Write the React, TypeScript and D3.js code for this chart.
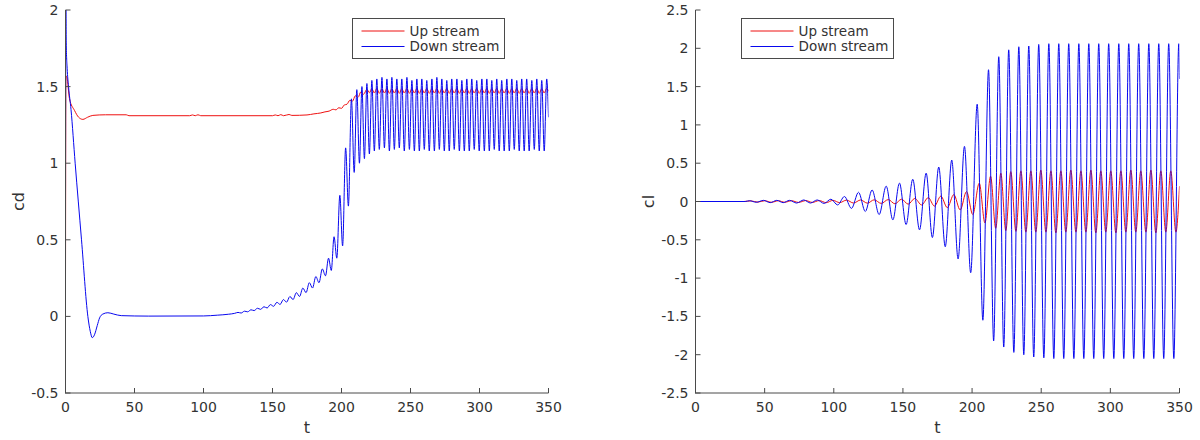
import React from "react";
import * as d3 from "d3";

// ---------- DATA ----------
const xTicks = [0, 50, 100, 150, 200, 250, 300, 350];
const cdTicks = [-0.5, 0, 0.5, 1, 1.5, 2];
const clTicks = [-2.5, -2, -1.5, -1, -0.5, 0, 0.5, 1, 1.5, 2, 2.5];
const seriesNames = ["Up stream", "Down stream"];

// flat [t, value, t, value, ...] lists of key points / extrema
const cdUp = [
  0, 0.18, 0.3, 1.57, 1, 1.56, 2.9, 1.42, 6.5, 1.345, 9.5, 1.3, 12.6, 1.286, 16, 1.3, 19.8, 1.312,
  29, 1.316, 44, 1.316, 46, 1.31, 90, 1.31, 92, 1.315, 94, 1.31, 96, 1.316, 98, 1.31, 150, 1.31,
  152, 1.315, 154, 1.31, 156, 1.317, 158, 1.31, 162, 1.318, 164, 1.312, 175, 1.315, 180, 1.322,
  185, 1.328, 188, 1.335, 191, 1.34, 194, 1.352, 196, 1.348, 198, 1.362, 200, 1.358, 202, 1.38,
  204, 1.385, 206, 1.41, 208, 1.405, 210, 1.44, 212, 1.43, 214, 1.465, 216, 1.45,
  218.4, 1.482, 220.2, 1.46, 222.0, 1.486, 223.8, 1.458, 225.6, 1.488, 227.4, 1.456, 229.3, 1.486,
  231.1, 1.458, 232.9, 1.488, 234.7, 1.456, 236.5, 1.486, 238.3, 1.458, 240.1, 1.488, 241.9, 1.456,
  243.7, 1.486, 245.5, 1.458, 247.4, 1.488, 249.2, 1.456, 251.0, 1.486, 252.8, 1.458, 254.6, 1.488,
  256.4, 1.456, 258.2, 1.486, 260.0, 1.458, 261.8, 1.488, 263.6, 1.456, 265.5, 1.486, 267.3, 1.458,
  269.1, 1.488, 270.9, 1.456, 272.7, 1.486, 274.5, 1.458, 276.3, 1.488, 278.1, 1.456, 279.9, 1.486,
  281.7, 1.458, 283.6, 1.488, 285.4, 1.456, 287.2, 1.486, 289.0, 1.458, 290.8, 1.488, 292.6, 1.456,
  294.4, 1.486, 296.2, 1.458, 298.0, 1.488, 299.8, 1.456, 301.7, 1.486, 303.5, 1.458, 305.3, 1.488,
  307.1, 1.456, 308.9, 1.486, 310.7, 1.458, 312.5, 1.488, 314.3, 1.456, 316.1, 1.486, 317.9, 1.458,
  319.8, 1.488, 321.6, 1.456, 323.4, 1.486, 325.2, 1.458, 327.0, 1.488, 328.8, 1.456, 330.6, 1.486,
  332.4, 1.458, 334.2, 1.488, 336.0, 1.456, 337.9, 1.486, 339.7, 1.458, 341.5, 1.488, 343.3, 1.456,
  345.1, 1.486, 346.9, 1.458, 348.7, 1.488, 350, 1.47,
];

const cdDown = [
  0, 0.7, 0.25, 2.0, 0.5, 1.79, 1.2, 1.62, 2.2, 1.5, 4, 1.35, 7, 1.0, 11.6, 0.5, 16.2, 0, 18, -0.1,
  19.4, -0.139, 21, -0.12, 23, -0.06, 24.7, -0.01, 27, 0.015, 30.7, 0.024, 35, 0.015, 40.4, 0.005,
  60, 0.002, 100, 0.003, 110, 0.008, 118, 0.014, 122.6, 0.02,
  125, 0.026, 127.3, 0.022, 129.7, 0.034, 132, 0.03, 134.4, 0.043, 136.7, 0.038, 139.1, 0.053,
  141.4, 0.046, 143.8, 0.063, 146.1, 0.055, 148.5, 0.077, 150.8, 0.066, 153.2, 0.092, 155.5, 0.078,
  157.9, 0.11, 160.2, 0.093, 162.6, 0.13, 164.9, 0.11, 167.3, 0.155, 169.6, 0.13, 172, 0.185,
  174.3, 0.155, 176.7, 0.22, 179, 0.185, 181.4, 0.26, 183.7, 0.22, 186.1, 0.31, 188.4, 0.265,
  190.6, 0.38, 192.6, 0.3, 194.6, 0.52, 196.6, 0.38, 198.8, 0.79, 200.8, 0.46, 203, 1.1, 205, 0.72,
  207.2, 1.42, 209.2, 0.94, 211.1, 1.48, 213, 1.0,
  214.8, 1.5, 216.6, 1.03, 218.4, 1.52, 220.2, 1.06, 222.0, 1.54, 223.8, 1.08, 225.6, 1.55,
  227.4, 1.09, 229.3, 1.56, 231.1, 1.1, 232.9, 1.55, 234.7, 1.08, 236.5, 1.56, 238.3, 1.09,
  240.1, 1.55, 241.9, 1.1, 243.7, 1.55, 245.5, 1.08, 247.4, 1.56, 249.2, 1.09, 251.0, 1.54,
  252.8, 1.08, 254.6, 1.55, 256.4, 1.08, 258.2, 1.55, 260.0, 1.09, 261.8, 1.54, 263.6, 1.08,
  265.5, 1.55, 267.3, 1.08, 269.1, 1.56, 270.9, 1.09, 272.7, 1.55, 274.5, 1.08, 276.3, 1.54,
  278.1, 1.08, 279.9, 1.55, 281.7, 1.09, 283.6, 1.55, 285.4, 1.08, 287.2, 1.54, 289.0, 1.08,
  290.8, 1.55, 292.6, 1.08, 294.4, 1.55, 296.2, 1.09, 298.0, 1.54, 299.8, 1.08, 301.7, 1.55,
  303.5, 1.08, 305.3, 1.55, 307.1, 1.08, 308.9, 1.54, 310.7, 1.09, 312.5, 1.55, 314.3, 1.08,
  316.1, 1.54, 317.9, 1.08, 319.8, 1.55, 321.6, 1.08, 323.4, 1.55, 325.2, 1.09, 327.0, 1.54,
  328.8, 1.08, 330.6, 1.55, 332.4, 1.08, 334.2, 1.55, 336.0, 1.08, 337.9, 1.54, 339.7, 1.09,
  341.5, 1.55, 343.3, 1.08, 345.1, 1.54, 346.9, 1.08, 348.7, 1.55, 350, 1.3,
];

const clUp = [
  0, 0, 35, 0, 40, 0.008, 45, -0.008, 50, 0.01, 55, -0.01, 60, 0.01, 64.5, -0.01, 69.5, 0.01,
  74.5, -0.012, 79.8, 0.012, 84.5, -0.012, 89.5, 0.012, 94.5, -0.015, 99.4, 0.015, 104.3, -0.015,
  109.2, 0.018, 114.3, -0.02, 119.4, 0.02, 124.3, -0.022, 129.2, 0.022, 134.3, -0.025, 139.4, 0.025,
  144.2, -0.03, 149, 0.03, 153.8, -0.035, 158.6, 0.04, 163.5, -0.045, 168.3, 0.05, 172.8, -0.06,
  177.4, 0.07, 182.1, -0.08, 186.8, 0.09, 191.4, -0.11, 196, 0.13, 200.5, -0.17, 205.2, 0.24,
  209.3, -0.28, 213.4, 0.33, 217.1, -0.35, 220.8, 0.37, 224.4, -0.38, 228, 0.39, 231.7, -0.39,
  235.3, 0.4, 238.9, -0.4, 242.5, 0.4, 246.1, -0.4, 249.7, 0.41, 253.4, -0.4, 257, 0.4, 260.6, -0.41,
  264.2, 0.4, 267.8, -0.4, 271.4, 0.41, 275.1, -0.4, 278.7, 0.4, 282.3, -0.4, 285.9, 0.41,
  289.5, -0.41, 293.1, 0.4, 296.7, -0.4, 300.3, 0.4, 304, -0.41, 307.6, 0.4, 311.2, -0.4,
  314.8, 0.41, 318.4, -0.4, 322, 0.4, 325.7, -0.4, 329.3, 0.41, 332.9, -0.41, 336.5, 0.4,
  340.1, -0.4, 343.7, 0.4, 347.4, -0.4, 350, 0.2,
];

const clDown = [
  0, 0, 36, 0, 39, 0.01, 44, -0.01, 49.2, 0.015, 54, -0.015, 58.8, 0.015, 63.4, -0.015, 68, 0.015,
  73.1, -0.02, 78.3, 0.02, 83.1, -0.02, 88, 0.02, 93, -0.025, 97.9, 0.03, 102.8, -0.045, 107.7, 0.065,
  112.8, -0.09, 117.9, 0.12, 122.8, -0.13, 127.7, 0.15, 132.8, -0.17, 137.9, 0.2, 142.7, -0.24,
  147.5, 0.24, 152.3, -0.3, 157.1, 0.29, 162, -0.37, 166.8, 0.37, 171.3, -0.47, 175.9, 0.45,
  180.6, -0.59, 185.3, 0.54, 189.9, -0.75, 194.5, 0.72, 199, -0.93, 203.7, 1.27, 207.8, -1.55,
  211.9, 1.72, 215.6, -1.82, 219.3, 1.89, 222.9, -1.9, 226.5, 1.98, 230.2, -1.97, 233.8, 2.02,
  237.4, -2.0, 241, 2.03, 244.6, -2.03, 248.2, 2.05, 251.9, -2.04, 255.5, 2.06, 259.1, -2.05,
  262.7, 2.06, 266.3, -2.05, 269.9, 2.06, 273.6, -2.05, 277.2, 2.06, 280.8, -2.05, 284.4, 2.06,
  288, -2.05, 291.6, 2.06, 295.2, -2.05, 298.8, 2.06, 302.5, -2.05, 306.1, 2.06, 309.7, -2.05,
  313.3, 2.06, 316.9, -2.05, 320.5, 2.06, 324.2, -2.05, 327.8, 2.06, 331.4, -2.05, 335, 2.06,
  338.6, -2.05, 342.2, 2.06, 345.9, -2.05, 349.5, 2.06, 350, 1.6,
];

// ---------- helpers ----------
const toPairs = (a: number[]) => {
  const out: [number, number][] = [];
  for (let i = 0; i < a.length; i += 2) out.push([a[i], a[i + 1]]);
  return out;
};

const FONT = "'DejaVu Sans', sans-serif";
const AXIS = "#4a4a4a";
const TEXT = "#333333";
const RED = "#ee1111";
const BLUE = "#0808ee";

type PanelProps = {
  id: string;
  left: number;
  right: number;
  top: number;
  bottom: number;
  yDomain: [number, number];
  yTicks: number[];
  yLabel: string;
  up: number[];
  down: number[];
  legendX: number;
  legendY: number;
};

function Panel(p: PanelProps) {
  const x = d3.scaleLinear().domain([0, 350]).range([p.left, p.right]);
  const y = d3.scaleLinear().domain(p.yDomain).range([p.bottom, p.top]);
  const line = d3
    .line<[number, number]>()
    .x((d) => x(d[0]))
    .y((d) => y(d[1]))
    .curve(d3.curveMonotoneX);
  const tick = 5;
  const lw = 152;
  const lh = 40;
  return (
    <g>
      <defs>
        <clipPath id={p.id}>
          <rect x={p.left} y={p.top} width={p.right - p.left} height={p.bottom - p.top} />
        </clipPath>
      </defs>
      <g clipPath={`url(#${p.id})`} fill="none" strokeWidth={1}>
        <path d={line(toPairs(p.up)) || ""} stroke={RED} />
        <path d={line(toPairs(p.down)) || ""} stroke={BLUE} />
      </g>
      {/* axes */}
      <g stroke={AXIS} strokeWidth={1} fill="none">
        <line x1={p.left} y1={p.top} x2={p.left} y2={p.bottom + 0.5} />
        <line x1={p.left} y1={p.bottom} x2={p.right} y2={p.bottom} />
        {xTicks.map((t) => (
          <line key={"xt" + t} x1={x(t)} x2={x(t)} y1={p.bottom} y2={p.bottom - tick} />
        ))}
        {p.yTicks.map((t) => (
          <line key={"yt" + t} x1={p.left} x2={p.left + tick} y1={y(t)} y2={y(t)} />
        ))}
      </g>
      <g fontFamily={FONT} fontSize={14} fill={TEXT}>
        {xTicks.map((t) => (
          <text key={"xl" + t} x={x(t)} y={p.bottom + 19} textAnchor="middle">
            {String(t)}
          </text>
        ))}
        {p.yTicks.map((t) => (
          <text key={"yl" + t} x={p.left - 7} y={y(t)} dy="0.36em" textAnchor="end">
            {String(t)}
          </text>
        ))}
        <text x={(p.left + p.right) / 2} y={p.bottom + 40} textAnchor="middle" fontSize={16}>
          t
        </text>
        <text
          transform={`translate(${p.left - 42},${(p.top + p.bottom) / 2}) rotate(-90)`}
          textAnchor="middle"
          fontSize={16}
        >
          {p.yLabel}
        </text>
      </g>
      {/* legend */}
      <g fontFamily={FONT} fontSize={13.5} fill={TEXT}>
        <rect x={p.legendX} y={p.legendY} width={lw} height={lh} fill="#fff" stroke={AXIS} strokeWidth={1} />
        {seriesNames.map((name, i) => (
          <g key={name}>
            <line
              x1={p.legendX + 9}
              x2={p.legendX + 52}
              y1={p.legendY + 12.5 + i * 15.5}
              y2={p.legendY + 12.5 + i * 15.5}
              stroke={i === 0 ? RED : BLUE}
              strokeWidth={1}
            />
            <text x={p.legendX + 57} y={p.legendY + 12.5 + i * 15.5} dy="0.36em">
              {name}
            </text>
          </g>
        ))}
      </g>
    </g>
  );
}

export default function App() {
  return (
    <svg
      width={1200}
      height={440}
      style={{ position: "absolute", left: 0, top: 0, background: "#fff" }}
    >
      <rect width={1200} height={440} fill="#fff" />
      <Panel
        id="clipL"
        left={65.5}
        right={548.5}
        top={10}
        bottom={393}
        yDomain={[-0.5, 2]}
        yTicks={cdTicks}
        yLabel="cd"
        up={cdUp}
        down={cdDown}
        legendX={352.5}
        legendY={18.5}
      />
      <Panel
        id="clipR"
        left={695.5}
        right={1179.5}
        top={10}
        bottom={393}
        yDomain={[-2.5, 2.5]}
        yTicks={clTicks}
        yLabel="cl"
        up={clUp}
        down={clDown}
        legendX={741.5}
        legendY={18.5}
      />
    </svg>
  );
}
